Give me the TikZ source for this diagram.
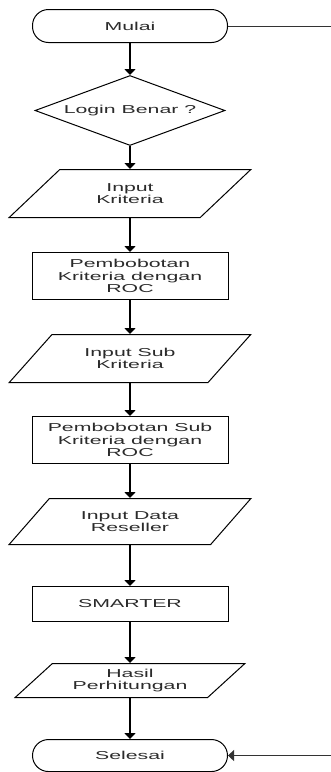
\documentclass[tikz,border=0pt]{standalone}
\usepackage{fontspec}
\setmainfont[FakeStretch=1.85]{Liberation Sans}
\usepackage{tikz}
\usetikzlibrary{positioning, shapes.geometric, arrows.meta}
\definecolor{cText}{HTML}{2B2B2B}

\begin{document}
\begin{tikzpicture}[
  font=\fontsize{11.5}{12.5}\selectfont,
  >={Triangle[length=6pt,width=11pt]},
  term/.style={draw, line width=1pt, rounded corners=16pt, text=cText,
               minimum width=195pt, minimum height=33pt, inner sep=2pt},
  cond/.style={draw, line width=1pt, diamond, aspect=2.7, text=cText,
               minimum width=190pt, minimum height=70pt, inner sep=0pt},
  io/.style={draw, line width=1pt, trapezium, trapezium left angle=42,
             trapezium right angle=138, trapezium stretches=true, text=cText,
             minimum width=242pt, minimum height=48pt, align=center, inner sep=1pt},
  proc/.style={draw, line width=1pt, rectangle, text=cText,
               minimum width=196pt, minimum height=47pt, align=center, inner sep=2pt},
  flow/.style={->, line width=1.6pt, draw=black},
  back/.style={->, line width=0.8pt, draw=black!80}
]
\useasboundingbox (0pt,0pt) rectangle (331pt,-772pt);

\node[term] (mulai) at (130pt,-26pt) {Mulai};
\node[cond, below=32pt of mulai] (login) {Login Benar ?};
\node[io, below=23pt of login] (inKrit) {Input\\Kriteria};
\node[proc, below=34pt of inKrit] (bobotKrit) {Pembobotan\\Kriteria dengan\\ROC};
\node[io, below=34pt of bobotKrit] (inSub) {Input Sub\\Kriteria};
\node[proc, below=33pt of inSub] (bobotSub) {Pembobotan Sub\\Kriteria dengan\\ROC};
\node[io, minimum height=46pt, below=34pt of bobotSub] (inData) {Input Data\\Reseller};
\node[proc, minimum height=35pt, below=41pt of inData] (smarter) {SMARTER};
\node[io, minimum width=230pt, minimum height=34pt, below=41pt of smarter] (hasil) {Hasil\\Perhitungan};
\node[term, minimum height=32pt, below=41pt of hasil] (selesai) {Selesai};

\coordinate (edge) at (331pt,0pt);

\draw[flow] (mulai) -- (login);
\draw[flow] (login) -- (inKrit);
\draw[flow] (inKrit) -- (bobotKrit);
\draw[flow] (bobotKrit) -- (inSub);
\draw[flow] (inSub) -- (bobotSub);
\draw[flow] (bobotSub) -- (inData);
\draw[flow] (inData) -- (smarter);
\draw[flow] (smarter) -- (hasil);
\draw[flow] (hasil) -- (selesai);
\draw[back] (mulai.east) -- (mulai.east -| edge) |- (selesai.east);
\end{tikzpicture}
\end{document}
